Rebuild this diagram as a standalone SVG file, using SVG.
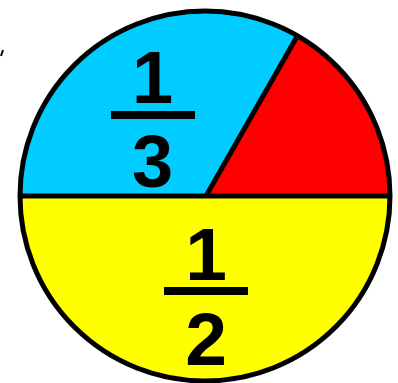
<svg xmlns="http://www.w3.org/2000/svg" width="398" height="383" viewBox="0 0 398 383">
<style>
.num{font-family:"Liberation Sans",Arial,sans-serif;font-weight:bold;fill:#000;text-anchor:middle}
.edge{stroke:#000;stroke-width:5;fill:none}
.bar{fill:#000}
</style>
<rect width="398" height="383" fill="#fff"/>
<g id="half">
<path d="M20,196 A185,185 0 0 0 390,196 Z" fill="#FFFF00"/>
<text class="num" x="206" y="280" font-size="75">1</text>
<rect class="bar" x="164" y="287" width="84" height="8"/>
<text class="num" x="206" y="365" font-size="75">2</text>
</g>
<g id="third">
<path d="M20,196 A185,185 0 0 1 297.5,35.8 L205,196 Z" fill="#00CCFF"/>
<text class="num" x="152.5" y="103" font-size="74">1</text>
<rect class="bar" x="111" y="111" width="84" height="8"/>
<text class="num" x="152.5" y="187" font-size="74">3</text>
</g>
<g id="sixth">
<path d="M205,196 L297.5,35.8 A185,185 0 0 1 390,196 Z" fill="#FF0000"/>
</g>
<g id="connectors">
<circle class="edge" cx="205" cy="196" r="185"/>
<line class="edge" x1="20" y1="196" x2="390" y2="196"/>
<line class="edge" x1="206" y1="196" x2="297.5" y2="35.8"/>
<line x1="3" y1="50" x2="1" y2="56" stroke="#000" stroke-width="2"/>
</g>
</svg>
